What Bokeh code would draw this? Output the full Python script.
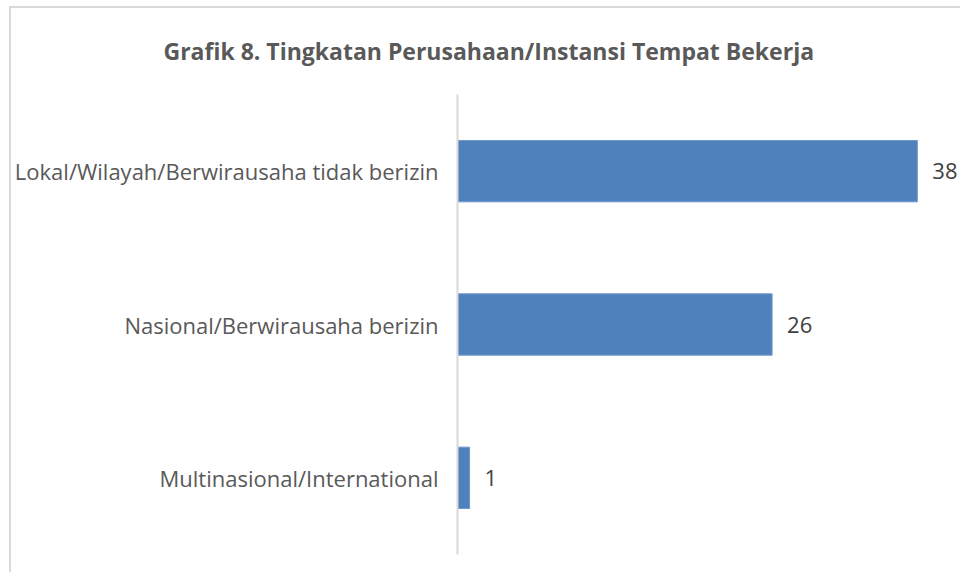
from bokeh.plotting import figure
from bokeh.models import ColumnDataSource, FactorRange, Range1d, Title
from bokeh.core.properties import value
from bokeh.embed import file_html
from bokeh.resources import INLINE

categories = [
    "Lokal/Wilayah/Berwirausaha tidak berizin",
    "Nasional/Berwirausaha berizin",
    "Multinasional/International",
]
counts = [38, 26, 1]
title_text = "Grafik 8. Tingkatan Perusahaan/Instansi Tempat Bekerja"

FONT = "Open Sans"
GRAY = "#595959"

src = ColumnDataSource(dict(cat=categories, val=counts, lab=[str(v) for v in counts]))

p = figure(
    width=951, height=566, title=None,
    y_range=FactorRange(factors=categories[::-1]),
    x_range=Range1d(0, 41.57),
    output_backend="svg", toolbar_location=None,
    min_border_left=437, min_border_right=2, min_border_top=86, min_border_bottom=20,
)
p.styles = {
    "margin-left": "9px", "margin-top": "6px",
    "border-left": "2px solid #d9d9d9", "border-top": "2px solid #d9d9d9",
}
p.outline_line_color = None
p.background_fill_color = "white"
p.border_fill_color = "white"

p.hbar(y="cat", right="val", left=0, height=0.4, source=src,
       fill_color="#4f81bd", line_color="#6f97cc", line_width=1)

p.text(x="val", y="cat", text="lab", source=src, x_offset=15,
       text_baseline="middle", text_align="left",
       text_font=value(FONT), text_font_size="22px", text_color="#404040")

p.xaxis.visible = False
p.xgrid.visible = False
p.ygrid.visible = False
p.yaxis.axis_line_color = "#d9d9d9"
p.yaxis.axis_line_width = 2
p.yaxis.major_tick_line_color = None
p.yaxis.minor_tick_line_color = None
p.yaxis.major_label_standoff = 13
p.yaxis.major_label_text_font = FONT
p.yaxis.major_label_text_font_size = "22px"
p.yaxis.major_label_text_color = GRAY

title = Title(text=title_text, align="left", offset=-294, standoff=52,
              vertical_align="top",
              text_font=FONT, text_font_size="23px", text_font_style="bold",
              text_color=GRAY)
p.add_layout(title, "above")

open("out.html", "w").write(file_html(p, INLINE))
